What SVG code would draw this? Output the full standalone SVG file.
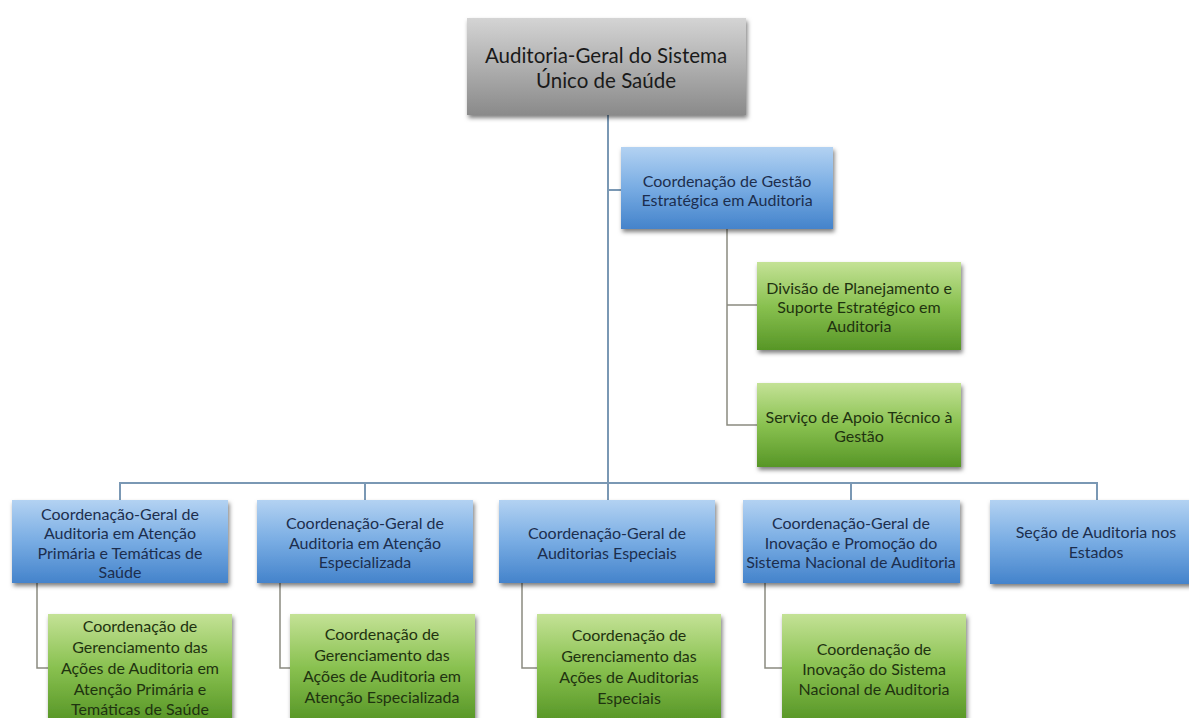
<svg xmlns="http://www.w3.org/2000/svg" width="1189" height="718" viewBox="0 0 1189 718">
<defs>
<linearGradient id="gGray" x1="0" y1="0" x2="0" y2="1"><stop offset="0" stop-color="#d4d4d4"/><stop offset="1" stop-color="#8a8a8a"/></linearGradient>
<linearGradient id="gBlue" x1="0" y1="0" x2="0" y2="1"><stop offset="0" stop-color="#b3d2f2"/><stop offset="0.5" stop-color="#78ace3"/><stop offset="1" stop-color="#4483cb"/></linearGradient>
<linearGradient id="gGreen" x1="0" y1="0" x2="0" y2="1"><stop offset="0" stop-color="#c4e296"/><stop offset="0.5" stop-color="#89c150"/><stop offset="1" stop-color="#579626"/></linearGradient>
<filter id="sh" x="-10%" y="-10%" width="125%" height="130%"><feDropShadow dx="1.5" dy="3" stdDeviation="2.2" flood-color="#000" flood-opacity="0.5"/></filter>
</defs>
<style>
text{font-family:Lato,"Open Sans","Liberation Sans",sans-serif;text-anchor:middle;dominant-baseline:central}
.gray rect{fill:url(#gGray);filter:url(#sh)}
.blue rect{fill:url(#gBlue);filter:url(#sh)}
.green rect{fill:url(#gGreen);filter:url(#sh)}
.gray text{font-size:20.5px;fill:#1a1a1a}
.blue text{font-size:16px;fill:#1c2e4e}
.green text{font-size:16px;fill:#1f3310}
.c1{fill:none;stroke:#7a98b4;stroke-width:2}
.c2{fill:none;stroke:#8a8a80;stroke-width:1.5}
</style>
<rect width="1189" height="718" fill="#fff"/>
<g id="connectors">
<path class="c1" d="M608,115 V500"/>
<path class="c1" d="M608,190 H621"/>
<path class="c1" d="M120,500 V483 H1097 V500"/>
<path class="c1" d="M365,483 V500 M851,483 V500"/>
<path class="c2" d="M727,229 V425 H757 M727,305 H757"/>
<path class="c2" d="M37,583 V668 H48 M280,583 V668 H290 M522,583 V668 H537 M765,583 V668 H782"/>
</g>
<g id="n-root" class="gray"><rect x="467" y="18" width="279" height="97"/>
<text x="606" y="55">Auditoria-Geral do Sistema</text><text x="606" y="80">Único de Saúde</text></g>
<g id="n-cgea" class="blue"><rect x="621" y="147" width="212" height="82"/>
<text x="727" y="180">Coordenação de Gestão</text><text x="727" y="199">Estratégica em Auditoria</text></g>
<g id="n-dpsea" class="green"><rect x="757" y="262" width="204" height="88"/>
<text x="859" y="287">Divisão de Planejamento e</text><text x="859" y="306">Suporte Estratégico em</text><text x="859" y="325">Auditoria</text></g>
<g id="n-satg" class="green"><rect x="757" y="383" width="204" height="84"/>
<text x="859" y="416">Serviço de Apoio Técnico à</text><text x="859" y="435">Gestão</text></g>
<g id="n-cgaap" class="blue"><rect x="12" y="500" width="216" height="83"/>
<text x="120" y="513">Coordenação-Geral de</text><text x="120" y="532.5">Auditoria em Atenção</text><text x="120" y="552">Primária e Temáticas de</text><text x="120" y="571.5">Saúde</text></g>
<g id="n-cgaae" class="blue"><rect x="257" y="500" width="216" height="83"/>
<text x="365" y="522.5">Coordenação-Geral de</text><text x="365" y="542">Auditoria em Atenção</text><text x="365" y="561.5">Especializada</text></g>
<g id="n-cgae" class="blue"><rect x="499" y="500" width="216" height="83"/>
<text x="607" y="532">Coordenação-Geral de</text><text x="607" y="552">Auditorias Especiais</text></g>
<g id="n-cgip" class="blue"><rect x="743" y="500" width="217" height="83"/>
<text x="851" y="522.5">Coordenação-Geral de</text><text x="851" y="542">Inovação e Promoção do</text><text x="851" y="561.5">Sistema Nacional de Auditoria</text></g>
<g id="n-sae" class="blue"><rect x="990" y="500" width="216" height="84"/>
<text x="1096" y="531">Seção de Auditoria nos</text><text x="1096" y="551">Estados</text></g>
<g id="n-cgap" class="green"><rect x="48" y="614" width="184" height="107"/>
<text x="140" y="625">Coordenação de</text><text x="140" y="646">Gerenciamento das</text><text x="140" y="667">Ações de Auditoria em</text><text x="140" y="688">Atenção Primária e</text><text x="140" y="708">Temáticas de Saúde</text></g>
<g id="n-cgape" class="green"><rect x="290" y="614" width="185" height="107"/>
<text x="382" y="633">Coordenação de</text><text x="382" y="654">Gerenciamento das</text><text x="382" y="675">Ações de Auditoria em</text><text x="382" y="696">Atenção Especializada</text></g>
<g id="n-cgaes" class="green"><rect x="537" y="614" width="184" height="107"/>
<text x="629" y="634">Coordenação de</text><text x="629" y="655">Gerenciamento das</text><text x="629" y="676">Ações de Auditorias</text><text x="629" y="697">Especiais</text></g>
<g id="n-cisn" class="green"><rect x="782" y="614" width="184" height="107"/>
<text x="874" y="648">Coordenação de</text><text x="874" y="668">Inovação do Sistema</text><text x="874" y="688">Nacional de Auditoria</text></g>
</svg>
